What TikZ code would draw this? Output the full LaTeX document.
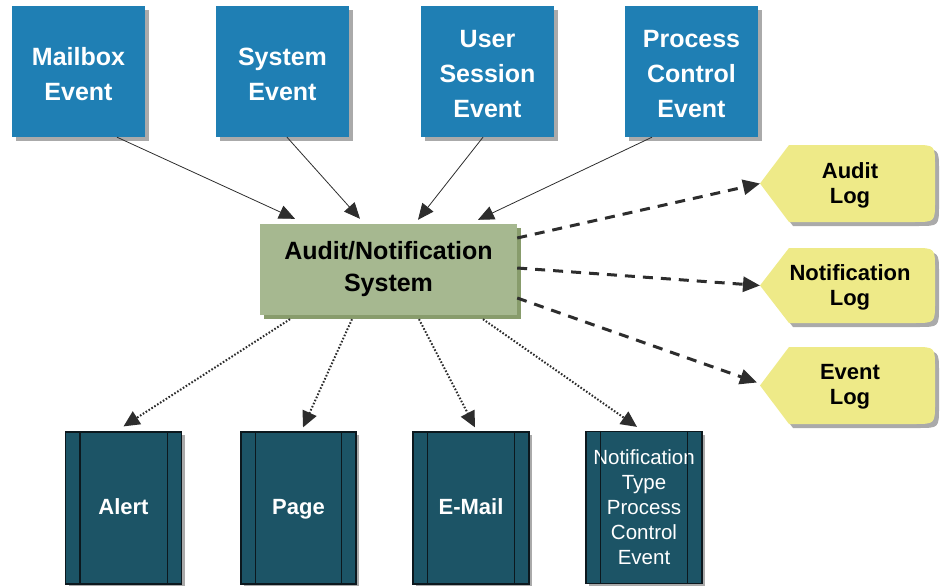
\documentclass[tikz,border=0pt]{standalone}
\usepackage{fontspec}
\setmainfont{Liberation Sans}
\usetikzlibrary{arrows.meta,shadows,calc}
\definecolor{evblue}{RGB}{31,127,180}
\definecolor{sysgreen}{RGB}{166,184,144}
\definecolor{sysshadow}{RGB}{136,156,108}
\definecolor{logyellow}{RGB}{238,234,136}
\definecolor{outteal}{RGB}{28,84,102}
\definecolor{outline}{RGB}{12,24,30}
\definecolor{linegray}{RGB}{45,45,45}
\definecolor{shadowgray}{RGB}{170,170,170}
\begin{document}
\begin{tikzpicture}[x=1pt,y=-1pt,
  evbox/.style={rectangle, fill=evblue, text=white, inner sep=0pt,
    minimum width=133pt, minimum height=131pt, align=center,
    font={\fontsize{25}{35}\selectfont\bfseries},
    drop shadow={shadow xshift=3.5pt, shadow yshift=-4pt, fill=shadowgray, opacity=1}},
  sysbox/.style={rectangle, fill=sysgreen, text=black, inner sep=0pt,
    minimum width=257pt, minimum height=91pt, align=center,
    font={\fontsize{25}{32}\selectfont\bfseries},
    drop shadow={shadow xshift=4pt, shadow yshift=-4pt, fill=sysshadow, opacity=1}},
  outbox/.style={rectangle, fill=outteal, draw=outline, line width=1.2pt, text=white, inner sep=0pt,
    minimum width=116pt, minimum height=152pt, align=center,
    font={\fontsize{22}{26}\selectfont\bfseries},
    drop shadow={shadow xshift=3pt, shadow yshift=-3pt, fill=shadowgray, opacity=1}},
  logtext/.style={text=black, inner sep=0pt, align=center,
    font={\fontsize{22}{25}\selectfont\bfseries}},
  inarrow/.style={draw=linegray, line width=0.8pt, -{Triangle[length=16pt,width=14pt]}},
  logarrow/.style={draw=linegray, line width=3pt, dash pattern=on 10pt off 8pt,
    -{Triangle[length=17pt,width=15pt]}},
  outarrow/.style={draw=linegray, line width=2pt, dash pattern=on 1.6pt off 1.8pt,
    -{Triangle[length=16pt,width=15pt]}}
]
\useasboundingbox (0,0) rectangle (940,586);

% input events
\node[evbox] (mail) at (78.5,71.5) {\rule{0pt}{23pt}Mailbox\\Event};
\node[evbox] (sysev) at (282.5,71.5) {\rule{0pt}{23pt}System\\Event};
\node[evbox] (user) at (487.5,71.5) {\rule{0pt}{23pt}User\\Session\\Event};
\node[evbox] (proc) at (691.5,71.5) {\rule{0pt}{23pt}Process\\Control\\Event};

% central system
\node[sysbox] (sys) at (388.5,269.5) {Audit/Notification\\System};

% logs
\foreach \t/\b/\m/\nm/\txt in {145/222/183.5/audit/{Audit\\Log},
    248/323/285.5/notif/{Notification\\Log},
    347/424/385.5/event/{Event\\Log}}{
  \begin{scope}[shift={(4,4)}]
    \fill[shadowgray] (760,\m) -- (789,\t) -- (914,\t) .. controls (935,\t) .. (935,\t+21)
      -- (935,\b-21) .. controls (935,\b) .. (914,\b) -- (789,\b) -- cycle;
  \end{scope}
  \fill[logyellow] (760,\m) -- (789,\t) -- (914,\t) .. controls (935,\t) .. (935,\t+21)
      -- (935,\b-21) .. controls (935,\b) .. (914,\b) -- (789,\b) -- cycle;
  \node[logtext] (\nm log) at (850,\m+1.5) {\txt};
  \coordinate (\nm pt) at (760,\m);
}

% outputs
\node[outbox] (alert) at (123.5,508) {\rule[-6pt]{0pt}{24pt}Alert};
\node[outbox, minimum width=115pt] (page) at (298.5,508) {\rule[-6pt]{0pt}{24pt}Page};
\node[outbox] (email) at (471,508) {\rule[-6pt]{0pt}{24pt}E-Mail};
\node[outbox, font={\fontsize{20.5}{25}\selectfont}] (ntype) at (644,507.5) {Notification\\Type\\Process\\Control\\Event};
\foreach \b in {alert,page,email,ntype}{
  \draw[outline, line width=1.2pt] ([xshift=15pt]\b.north west) -- ([xshift=15pt]\b.south west);
  \draw[outline, line width=1.2pt] ([xshift=-15pt]\b.north east) -- ([xshift=-15pt]\b.south east);
}

% inputs to system
\draw[inarrow] ([xshift=38.5pt]mail.south) -- ([xshift=-93.5pt,yshift=5pt]sys.north);
\draw[inarrow] ([xshift=4.5pt]sysev.south) -- ([xshift=-28.5pt,yshift=5pt]sys.north);
\draw[inarrow] ([xshift=-4.5pt]user.south) -- ([xshift=29.5pt,yshift=4pt]sys.north);
\draw[inarrow] ([xshift=-39.5pt]proc.south) -- ([xshift=89.5pt,yshift=4pt]sys.north);

% system to logs
\draw[logarrow] ([yshift=31.5pt]sys.east) -- (auditpt);
\draw[logarrow] ([yshift=1.5pt]sys.east) -- (notifpt);
\draw[logarrow] ([yshift=-28.5pt]sys.east) -- ([xshift=-3pt,yshift=3pt]eventpt);

% system to outputs
\draw[outarrow] ([xshift=-98.5pt,yshift=-4pt]sys.south) -- ([yshift=5pt]alert.north);
\draw[outarrow] ([xshift=-36.5pt,yshift=-4pt]sys.south) -- ([xshift=4.5pt,yshift=4pt]page.north);
\draw[outarrow] ([xshift=30.5pt,yshift=-4pt]sys.south) -- ([xshift=4pt,yshift=4pt]email.north);
\draw[outarrow] ([xshift=94.5pt,yshift=-4pt]sys.south) -- ([xshift=-7pt,yshift=4pt]ntype.north);
\end{tikzpicture}
\end{document}
